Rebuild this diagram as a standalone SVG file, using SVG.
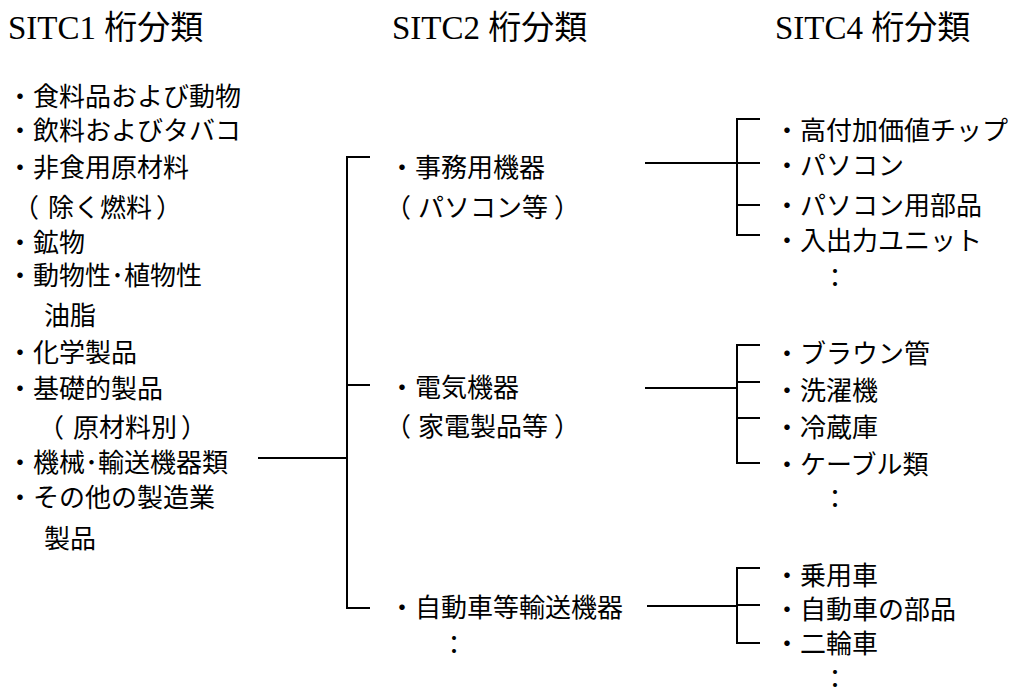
<svg xmlns="http://www.w3.org/2000/svg" width="1014" height="688" viewBox="0 0 1014 688">
<style>
.hd{font-family:"Liberation Serif","Noto Sans CJK JP",serif;font-size:33px;fill:#000}
.t{font-family:"Noto Sans CJK JP","Noto Sans",sans-serif;font-size:26px;fill:#000}
.ln{stroke:#000;stroke-width:2;fill:none}
</style>
<rect width="1014" height="688" fill="#fff"/>
<g id="headers">
<text class="hd" x="8" y="39">SITC1 桁分類</text>
<text class="hd" x="392" y="39">SITC2 桁分類</text>
<text class="hd" x="775" y="39">SITC4 桁分類</text>
</g>
<g id="sitc1">
<text class="t" x="7" y="106">・食料品および動物</text>
<text class="t" x="7" y="140">・飲料およびタバコ</text>
<text class="t" x="7" y="177">・非食用原材料</text>
<text class="t" x="13" y="217">（<tspan dx="9">除く燃料</tspan><tspan dx="4">）</tspan></text>
<text class="t" x="7" y="252">・鉱物</text>
<text class="t" x="7" y="285">・動物性･植物性</text>
<text class="t" x="44" y="325">油脂</text>
<text class="t" x="7" y="362">・化学製品</text>
<text class="t" x="7" y="398">・基礎的製品</text>
<text class="t" x="38" y="437">（<tspan dx="9">原材料別</tspan><tspan dx="4">）</tspan></text>
<text class="t" x="7" y="472">・機械･輸送機器類</text>
<text class="t" x="7" y="507">・その他の製造業</text>
<text class="t" x="44" y="548">製品</text>
</g>
<g id="sitc2-office">
<text class="t" x="389" y="177">・事務用機器</text>
<text class="t" x="385" y="217">（<tspan dx="7">パソコン等</tspan><tspan dx="6">）</tspan></text>
</g>
<g id="sitc2-electric">
<text class="t" x="389" y="397">・電気機器</text>
<text class="t" x="385" y="436">（<tspan dx="7">家電製品等</tspan><tspan dx="6">）</tspan></text>
</g>
<g id="sitc2-auto">
<text class="t" x="389" y="617">・自動車等輸送機器</text>
<text class="t" x="441" y="654">：</text>
</g>
<g id="sitc4-office">
<text class="t" x="774" y="140">・高付加価値チップ</text>
<text class="t" x="774" y="175">・パソコン</text>
<text class="t" x="774" y="215">・パソコン用部品</text>
<text class="t" x="774" y="250">・入出力ユニット</text>
<text class="t" x="822" y="287">：</text>
</g>
<g id="sitc4-electric">
<text class="t" x="774" y="363">・ブラウン管</text>
<text class="t" x="774" y="400">・洗濯機</text>
<text class="t" x="774" y="437">・冷蔵庫</text>
<text class="t" x="774" y="474">・ケーブル類</text>
<text class="t" x="822" y="508">：</text>
</g>
<g id="sitc4-auto">
<text class="t" x="774" y="585">・乗用車</text>
<text class="t" x="774" y="619">・自動車の部品</text>
<text class="t" x="774" y="653">・二輪車</text>
<text class="t" x="822" y="688">：</text>
</g>
<g id="connectors" class="ln">
<line x1="258" y1="458" x2="347" y2="458"/>
<path d="M370 157 H347 V608 H370"/>
<line x1="347" y1="385" x2="370" y2="385"/>
<line x1="645" y1="163" x2="737" y2="163"/>
<line x1="645" y1="388" x2="737" y2="388"/>
<line x1="647" y1="606" x2="737" y2="606"/>
<path d="M760 119 H737 V235 H760"/>
<line x1="737" y1="163" x2="760" y2="163"/>
<line x1="737" y1="205" x2="760" y2="205"/>
<path d="M760 345 H737 V463 H760"/>
<line x1="737" y1="382" x2="760" y2="382"/>
<line x1="737" y1="418" x2="760" y2="418"/>
<path d="M760 568 H737 V643 H760"/>
<line x1="737" y1="605" x2="760" y2="605"/>
</g>
</svg>
